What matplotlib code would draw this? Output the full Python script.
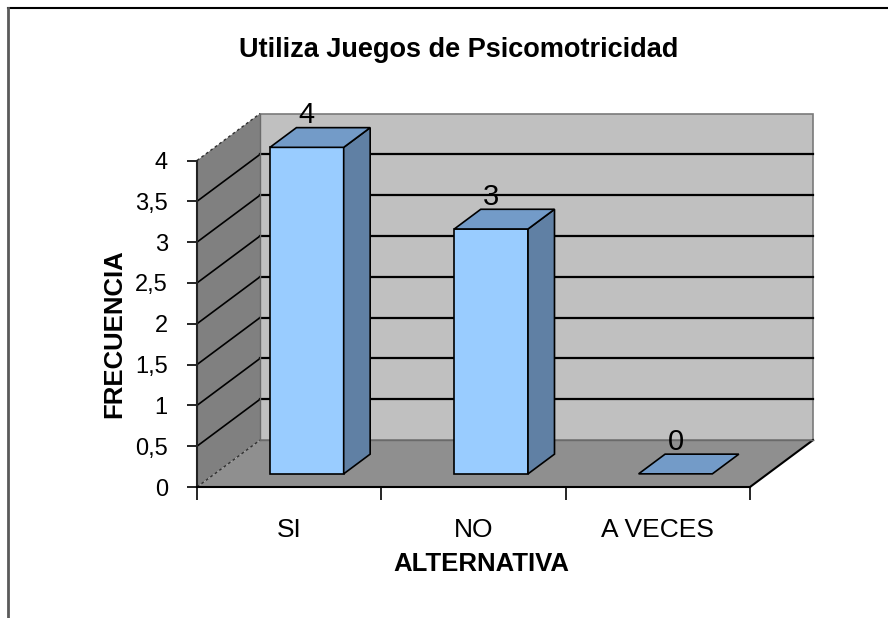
# -*- coding: utf-8 -*-
"""
Grafico de barras 3D estilo Excel - Utiliza Juegos de Psicomotricidad
"""
import numpy as np
import matplotlib
matplotlib.use('Agg')
import matplotlib.pyplot as plt
from matplotlib.patches import Polygon
from matplotlib.lines import Line2D
from matplotlib.ticker import FixedLocator, FuncFormatter

plt.rcParams['font.family'] = ['Liberation Sans', 'DejaVu Sans']

# datos
categorias = ['SI', 'NO', 'A VECES']
frecuencia = [4, 3, 0]
yticks = [0, 0.5, 1, 1.5, 2, 2.5, 3, 3.5, 4]
titulo = 'Utiliza Juegos de Psicomotricidad'

# profundidad oblicua (en unidades de datos)
DX = 0.342
DY = 0.575
D0, D1 = 0.28, 0.70   # profundidad de las barras
ANCHO = 0.40

def proj(x, y, d):
    return (x + d * DX, y + d * DY)

fig = plt.figure(figsize=(8.88, 6.18), dpi=100)
ax = fig.add_axes([197/888, (618-487)/618, (750-197)/888, (487-160.5)/618])
ax.set_xlim(0, len(categorias))
ax.set_ylim(0, 4)
ax.patch.set_visible(False)

n = len(categorias)
ymax = yticks[-1]

def poly(pts, fc, ec='none', lw=0, z=1):
    p = Polygon(pts, closed=True, facecolor=fc, edgecolor=ec, linewidth=lw,
                clip_on=False, zorder=z, joinstyle='miter')
    ax.add_patch(p)

# pared del fondo
poly([proj(0, 0, 1), proj(n, 0, 1), proj(n, ymax, 1), proj(0, ymax, 1)],
     '#c0c0c0', '#7a7a7a', 1.2, 1)
# pared lateral
poly([proj(0, 0, 0), proj(0, 0, 1), proj(0, ymax, 1), proj(0, ymax, 0)],
     '#808080', 'none', 0, 1)
# piso
poly([proj(0, 0, 0), proj(n, 0, 0), proj(n, 0, 1), proj(0, 0, 1)],
     '#8f8f8f', 'none', 0, 1.1)
ax.plot(*zip(proj(n, 0, 0), proj(n, 0, 1)), color='black', lw=1.5,
        clip_on=False, zorder=1.2)
ax.plot(*zip(proj(0, 0, 1), proj(n, 0, 1)), color='#6a6a6a', lw=1,
        clip_on=False, zorder=1.2)

# lineas de division
for yv in yticks[1:-1]:
    ax.plot(*zip(proj(0, yv, 1), proj(n, yv, 1)), color='black', lw=1.6,
            clip_on=False, zorder=1.3)
    ax.plot(*zip(proj(0, yv, 0), proj(0, yv, 1)), color='black', lw=1.2,
            clip_on=False, zorder=1.3)
ax.plot(*zip(proj(0, 0, 0), proj(0, 0, 1)), color='#303030', lw=1,
        ls=(0, (2, 2)), clip_on=False, zorder=1.3)
ax.plot(*zip(proj(0, ymax, 0), proj(0, ymax, 1)), color='#303030', lw=1,
        ls=(0, (2, 2)), clip_on=False, zorder=1.3)
ax.plot(*zip(proj(0, 0, 1), proj(0, ymax, 1)), color='#6a6a6a', lw=1,
        clip_on=False, zorder=1.3)

# barras
for i, v in enumerate(frecuencia):
    x0 = i + 0.5 - ANCHO / 2
    x1 = i + 0.5 + ANCHO / 2
    if v > 0:
        poly([proj(x0, 0, D0), proj(x1, 0, D0), proj(x1, v, D0), proj(x0, v, D0)],
             '#99ccff', 'black', 1.2, 3)
        poly([proj(x1, 0, D0), proj(x1, 0, D1), proj(x1, v, D1), proj(x1, v, D0)],
             '#6080a4', 'black', 1.2, 3)
    poly([proj(x0, v, D0), proj(x1, v, D0), proj(x1, v, D1), proj(x0, v, D1)],
         '#739bc8', 'black', 1.2, 3)
    tx, _ = proj(i + 0.5, v, D0)
    _, ty = proj(i + 0.5, v, D1)
    ax.text(tx, ty - 0.02, str(v), ha='center', va='bottom', fontsize=21,
            zorder=4, clip_on=False)

# ejes
for s in ['top', 'right']:
    ax.spines[s].set_visible(False)
ax.spines['left'].set_linewidth(1.5)
ax.spines['left'].set_color('#222222')
ax.spines['bottom'].set_linewidth(1.5)
ax.spines['left'].set_zorder(2.5)
ax.spines['bottom'].set_zorder(2.5)

ax.yaxis.set_major_locator(FixedLocator(yticks))
ax.yaxis.set_major_formatter(FuncFormatter(lambda v, p: ('%g' % v).replace('.', ',')))
ax.tick_params(axis='y', direction='out', length=7, width=1.2, pad=14,
               labelsize=17)

ax.xaxis.set_major_locator(FixedLocator(np.arange(n + 1)))
ax.xaxis.set_minor_locator(FixedLocator(np.arange(n) + 0.5))
ax.xaxis.set_major_formatter(FuncFormatter(lambda v, p: ''))
ax.set_xticklabels(categorias, minor=True)
ax.tick_params(axis='x', which='major', direction='out', length=9, width=1.2)
ax.tick_params(axis='x', which='minor', length=0, pad=22, labelsize=19)

ax.set_xlabel('ALTERNATIVA', fontsize=18.5, fontweight='bold')
ax.xaxis.set_label_coords(0.515, -0.20)
ax.set_ylabel('FRECUENCIA', fontsize=18.5, fontweight='bold')
ax.yaxis.set_label_coords(-0.128, 0.47)

fig.text(459/888, 1 - 50/618, titulo, ha='center', va='center',
         fontsize=19.5, fontweight='bold')

# marco del grafico
fig.add_artist(Line2D([8/888, 1], [1 - 8/618, 1 - 8/618],
                      transform=fig.transFigure, color='black', lw=1.5))
fig.add_artist(Line2D([8/888, 8/888], [0, 1 - 8/618],
                      transform=fig.transFigure, color='#5a5a5a', lw=2))

fig.savefig('out.png', dpi=100)
